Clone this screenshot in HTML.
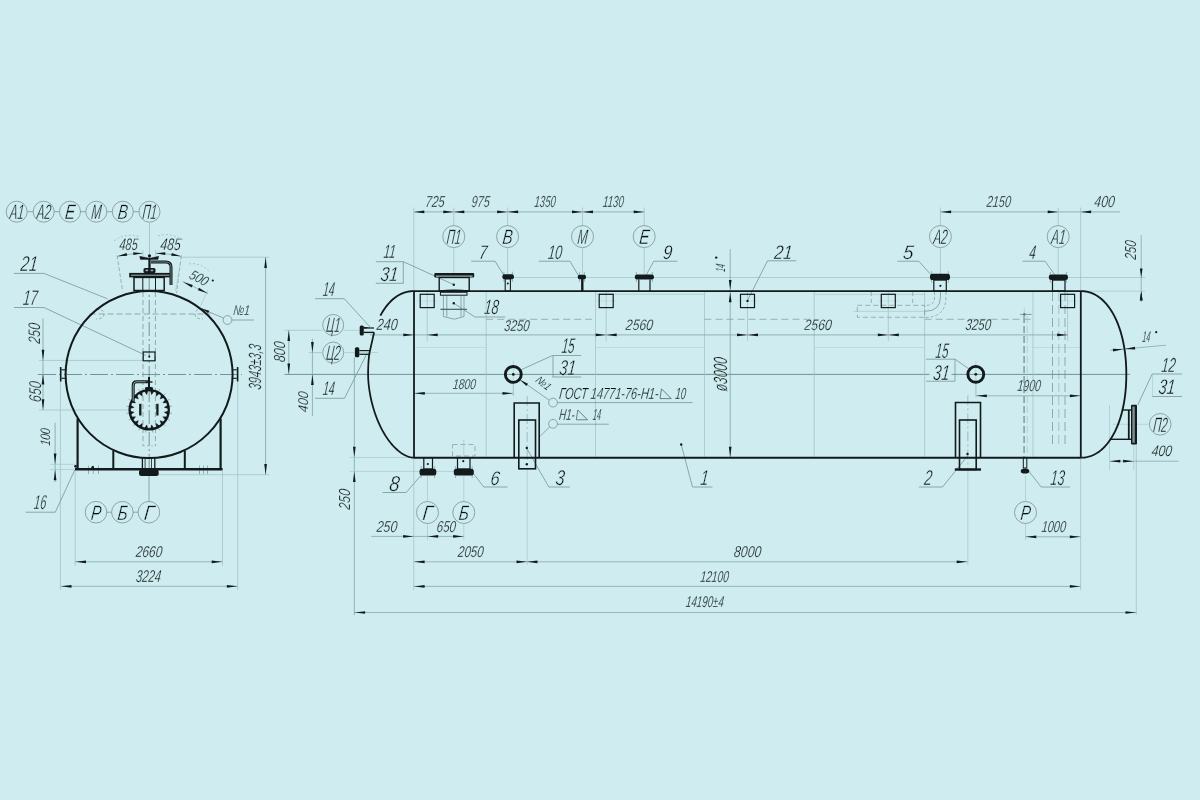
<!DOCTYPE html><html><head><meta charset="utf-8"><title>drawing</title><style>html,body{margin:0;padding:0;background:#cfedf0;}svg{display:block;font-family:"Liberation Sans",sans-serif;}svg{will-change:transform;}</style></head><body>
<svg width="1200" height="800" viewBox="0 0 1200 800">
<rect x="0" y="0" width="1200" height="800" fill="#cfedf0"/>
<circle cx="16.7" cy="211.7" r="10.5" fill="none" stroke="#6f8486" stroke-width="0.7"/>
<line x1="27.2" y1="211.7" x2="33.2" y2="211.7" stroke="#678a8d" stroke-width="0.7"/>
<circle cx="43.7" cy="211.7" r="10.5" fill="none" stroke="#6f8486" stroke-width="0.7"/>
<line x1="54.2" y1="211.7" x2="59.5" y2="211.7" stroke="#678a8d" stroke-width="0.7"/>
<circle cx="70" cy="211.7" r="10.5" fill="none" stroke="#6f8486" stroke-width="0.7"/>
<line x1="80.5" y1="211.7" x2="85.8" y2="211.7" stroke="#678a8d" stroke-width="0.7"/>
<circle cx="96.3" cy="211.7" r="10.5" fill="none" stroke="#6f8486" stroke-width="0.7"/>
<line x1="106.8" y1="211.7" x2="112.3" y2="211.7" stroke="#678a8d" stroke-width="0.7"/>
<circle cx="122.8" cy="211.7" r="10.5" fill="none" stroke="#6f8486" stroke-width="0.7"/>
<line x1="133.3" y1="211.7" x2="139" y2="211.7" stroke="#678a8d" stroke-width="0.7"/>
<circle cx="149.5" cy="211.7" r="10.5" fill="none" stroke="#6f8486" stroke-width="0.7"/>
<line x1="149.5" y1="222.2" x2="149.5" y2="256" stroke="#9dbfc2" stroke-width="0.8"/>
<line x1="149.2" y1="256" x2="149.2" y2="468" stroke="#5c7c7f" stroke-width="0.8" stroke-dasharray="14,3,2,3"/>
<line x1="38" y1="374.5" x2="242" y2="374.5" stroke="#5c7c7f" stroke-width="0.8" stroke-dasharray="18,3,2,3"/>
<line x1="143" y1="292" x2="143" y2="446" stroke="#7f9799" stroke-width="0.8" stroke-dasharray="5,3"/>
<line x1="155.4" y1="292" x2="155.4" y2="446" stroke="#7f9799" stroke-width="0.8" stroke-dasharray="5,3"/>
<line x1="89.5" y1="314" x2="210.5" y2="314" stroke="#7f9799" stroke-width="0.8" stroke-dasharray="6,3"/>
<path d="M 96 309 Q 104 309 104 314 Q 104 319 96 319" fill="none" stroke="#7f9799" stroke-width="0.8" stroke-dasharray="3,2"/>
<path d="M 203 309 Q 195 309 195 314 Q 195 319 203 319" fill="none" stroke="#7f9799" stroke-width="0.8" stroke-dasharray="3,2"/>
<line x1="180.6" y1="257.2" x2="269.4" y2="257.2" stroke="#9dbfc2" stroke-width="0.7"/>
<line x1="158" y1="474.7" x2="269.4" y2="474.7" stroke="#9dbfc2" stroke-width="0.7"/>
<line x1="265.6" y1="257.2" x2="265.6" y2="474.7" stroke="#7c9fa2" stroke-width="0.8"/>
<line x1="117" y1="255.4" x2="122.7" y2="291.2" stroke="#7f9799" stroke-width="0.7" stroke-dasharray="4,2"/>
<line x1="181.3" y1="255.4" x2="176.5" y2="293" stroke="#7f9799" stroke-width="0.7" stroke-dasharray="4,2"/>
<path d="M 117.5 256.3 Q 130 253.5 143 253.2" fill="none" stroke="#7c9fa2" stroke-width="0.7"/>
<path d="M 155.6 253.2 Q 168 253.5 181 256.3" fill="none" stroke="#7c9fa2" stroke-width="0.7"/>
<line x1="143" y1="250" x2="143" y2="256" stroke="#9dbfc2" stroke-width="0.6"/>
<line x1="155.6" y1="250" x2="155.6" y2="256" stroke="#9dbfc2" stroke-width="0.6"/>
<path d="M 114 241 Q 126 232 140 237" fill="none" stroke="#7f9799" stroke-width="0.5" stroke-dasharray="2,2"/>
<path d="M 158 236 Q 170 232 183 240" fill="none" stroke="#7f9799" stroke-width="0.5" stroke-dasharray="2,2"/>
<line x1="175.5" y1="291" x2="180.6" y2="262" stroke="#9dbfc2" stroke-width="0.5"/>
<line x1="200.5" y1="306" x2="208" y2="290" stroke="#9dbfc2" stroke-width="0.6"/>
<line x1="182.5" y1="281.5" x2="208" y2="293.5" stroke="#7c9fa2" stroke-width="0.7"/>
<path d="M 189 264 Q 200 262 210 272" fill="none" stroke="#7f9799" stroke-width="0.5" stroke-dasharray="2,2"/>
<circle cx="227.5" cy="320" r="4.4" fill="none" stroke="#6f8486" stroke-width="0.7"/>
<line x1="223.5" y1="318" x2="201" y2="308.5" stroke="#678a8d" stroke-width="0.7"/>
<line x1="232" y1="320" x2="254" y2="320" stroke="#678a8d" stroke-width="0.7"/>
<line x1="14" y1="273.4" x2="44" y2="273.4" stroke="#678a8d" stroke-width="0.7"/>
<line x1="44" y1="273.4" x2="107.5" y2="298.8" stroke="#678a8d" stroke-width="0.7"/>
<line x1="14" y1="307.5" x2="44" y2="307.5" stroke="#678a8d" stroke-width="0.7"/>
<line x1="44" y1="307.5" x2="146" y2="355.5" stroke="#678a8d" stroke-width="0.7"/>
<line x1="39" y1="360.4" x2="143" y2="360.4" stroke="#9dbfc2" stroke-width="0.7"/>
<line x1="39" y1="410" x2="130" y2="410" stroke="#9dbfc2" stroke-width="0.7"/>
<line x1="43" y1="318.5" x2="43" y2="410" stroke="#7c9fa2" stroke-width="0.8"/>
<line x1="55.1" y1="422.8" x2="55.1" y2="482" stroke="#7c9fa2" stroke-width="0.8"/>
<line x1="50" y1="464.3" x2="78" y2="464.3" stroke="#9dbfc2" stroke-width="0.6"/>
<line x1="50" y1="469.6" x2="76" y2="469.6" stroke="#9dbfc2" stroke-width="0.6"/>
<line x1="60.4" y1="381.3" x2="60.4" y2="590" stroke="#9dbfc2" stroke-width="0.7"/>
<line x1="237.7" y1="381.6" x2="237.7" y2="590" stroke="#9dbfc2" stroke-width="0.7"/>
<line x1="88.5" y1="465.5" x2="88.5" y2="474" stroke="#678a8d" stroke-width="0.6"/>
<line x1="93.3" y1="465.5" x2="93.3" y2="474" stroke="#678a8d" stroke-width="0.6"/>
<line x1="98.5" y1="465.5" x2="98.5" y2="474" stroke="#678a8d" stroke-width="0.6"/>
<line x1="199.5" y1="465.5" x2="199.5" y2="474" stroke="#678a8d" stroke-width="0.6"/>
<line x1="203.5" y1="465.5" x2="203.5" y2="474" stroke="#678a8d" stroke-width="0.6"/>
<line x1="207.5" y1="465.5" x2="207.5" y2="474" stroke="#678a8d" stroke-width="0.6"/>
<line x1="169.35" y1="412.99" x2="172.02" y2="413.41" stroke="#678a8d" stroke-width="0.6"/>
<line x1="167.38" y1="419.06" x2="169.78" y2="420.29" stroke="#678a8d" stroke-width="0.6"/>
<line x1="163.62" y1="424.22" x2="165.53" y2="426.13" stroke="#678a8d" stroke-width="0.6"/>
<line x1="158.46" y1="427.98" x2="159.69" y2="430.38" stroke="#678a8d" stroke-width="0.6"/>
<line x1="152.39" y1="429.95" x2="152.81" y2="432.62" stroke="#678a8d" stroke-width="0.6"/>
<line x1="146.01" y1="429.95" x2="145.59" y2="432.62" stroke="#678a8d" stroke-width="0.6"/>
<line x1="139.94" y1="427.98" x2="138.71" y2="430.38" stroke="#678a8d" stroke-width="0.6"/>
<line x1="134.78" y1="424.22" x2="132.87" y2="426.13" stroke="#678a8d" stroke-width="0.6"/>
<line x1="131.02" y1="419.06" x2="128.62" y2="420.29" stroke="#678a8d" stroke-width="0.6"/>
<line x1="129.05" y1="412.99" x2="126.38" y2="413.41" stroke="#678a8d" stroke-width="0.6"/>
<line x1="129.05" y1="406.61" x2="126.38" y2="406.19" stroke="#678a8d" stroke-width="0.6"/>
<line x1="131.02" y1="400.54" x2="128.62" y2="399.31" stroke="#678a8d" stroke-width="0.6"/>
<line x1="134.78" y1="395.38" x2="132.87" y2="393.47" stroke="#678a8d" stroke-width="0.6"/>
<line x1="139.94" y1="391.62" x2="138.71" y2="389.22" stroke="#678a8d" stroke-width="0.6"/>
<line x1="146.01" y1="389.65" x2="145.59" y2="386.98" stroke="#678a8d" stroke-width="0.6"/>
<line x1="152.39" y1="389.65" x2="152.81" y2="386.98" stroke="#678a8d" stroke-width="0.6"/>
<line x1="158.46" y1="391.62" x2="159.69" y2="389.22" stroke="#678a8d" stroke-width="0.6"/>
<line x1="163.62" y1="395.38" x2="165.53" y2="393.47" stroke="#678a8d" stroke-width="0.6"/>
<line x1="167.38" y1="400.54" x2="169.78" y2="399.31" stroke="#678a8d" stroke-width="0.6"/>
<line x1="169.35" y1="406.61" x2="172.02" y2="406.19" stroke="#678a8d" stroke-width="0.6"/>
<line x1="143" y1="430" x2="155.4" y2="430" stroke="#7f9799" stroke-width="0.5" stroke-dasharray="2,2"/>
<line x1="143" y1="445.9" x2="155.4" y2="445.9" stroke="#7f9799" stroke-width="0.5" stroke-dasharray="2,2"/>
<line x1="25.6" y1="512.2" x2="55.3" y2="512.2" stroke="#678a8d" stroke-width="0.7"/>
<line x1="55.3" y1="512.2" x2="74.75" y2="470" stroke="#678a8d" stroke-width="0.7"/>
<circle cx="96" cy="512.2" r="10.8" fill="none" stroke="#6f8486" stroke-width="0.7"/>
<line x1="106.8" y1="512.2" x2="111.6" y2="512.2" stroke="#678a8d" stroke-width="0.7"/>
<circle cx="122.4" cy="512.2" r="10.8" fill="none" stroke="#6f8486" stroke-width="0.7"/>
<line x1="133.2" y1="512.2" x2="138.1" y2="512.2" stroke="#678a8d" stroke-width="0.7"/>
<circle cx="148.9" cy="512.2" r="10.8" fill="none" stroke="#6f8486" stroke-width="0.7"/>
<line x1="149" y1="475" x2="149" y2="501.4" stroke="#678a8d" stroke-width="0.7"/>
<line x1="75.2" y1="471" x2="75.2" y2="565.7" stroke="#9dbfc2" stroke-width="0.7"/>
<line x1="222.5" y1="471" x2="222.5" y2="565.7" stroke="#9dbfc2" stroke-width="0.7"/>
<line x1="75.2" y1="561.8" x2="222.5" y2="561.8" stroke="#7c9fa2" stroke-width="0.7"/>
<line x1="60.7" y1="586.3" x2="237.7" y2="586.3" stroke="#7c9fa2" stroke-width="0.7"/>
<line x1="284.5" y1="374.4" x2="929.5" y2="374.4" stroke="#5c7c7f" stroke-width="0.8"/>
<line x1="951.5" y1="374.4" x2="1130" y2="374.4" stroke="#5c7c7f" stroke-width="0.8"/>
<line x1="486.2" y1="292.3" x2="486.2" y2="456.7" stroke="#9dbfc2" stroke-width="0.7"/>
<line x1="595.5" y1="292" x2="595.5" y2="456.7" stroke="#9dbfc2" stroke-width="0.7"/>
<line x1="704.5" y1="292" x2="704.5" y2="456.7" stroke="#9dbfc2" stroke-width="0.7"/>
<line x1="814.2" y1="292" x2="814.2" y2="456.7" stroke="#9dbfc2" stroke-width="0.7"/>
<line x1="924.6" y1="292" x2="924.6" y2="456.7" stroke="#9dbfc2" stroke-width="0.7"/>
<line x1="1033" y1="292" x2="1033" y2="456.7" stroke="#9dbfc2" stroke-width="0.7"/>
<line x1="414" y1="347.5" x2="486.2" y2="347.5" stroke="#9dbfc2" stroke-width="0.6" stroke-opacity="0.6"/>
<line x1="595.5" y1="347.5" x2="704.5" y2="347.5" stroke="#9dbfc2" stroke-width="0.6" stroke-opacity="0.6"/>
<line x1="814.2" y1="347.5" x2="924.6" y2="347.5" stroke="#9dbfc2" stroke-width="0.6" stroke-opacity="0.6"/>
<line x1="1033" y1="347.5" x2="1080.8" y2="347.5" stroke="#9dbfc2" stroke-width="0.6" stroke-opacity="0.6"/>
<line x1="486.2" y1="319.3" x2="595.5" y2="319.3" stroke="#7f9799" stroke-width="0.7" stroke-dasharray="7,4"/>
<line x1="704.5" y1="319.3" x2="812" y2="319.3" stroke="#7f9799" stroke-width="0.7" stroke-dasharray="7,4"/>
<line x1="924.6" y1="319.3" x2="1032.5" y2="319.3" stroke="#7f9799" stroke-width="0.7" stroke-dasharray="7,4"/>
<line x1="427.2" y1="291.5" x2="427.2" y2="341" stroke="#9dbfc2" stroke-width="0.7"/>
<line x1="417.2" y1="300.9" x2="437.2" y2="300.9" stroke="#9dbfc2" stroke-width="0.5" stroke-opacity="0.6"/>
<line x1="606.2" y1="291.5" x2="606.2" y2="341" stroke="#9dbfc2" stroke-width="0.7"/>
<line x1="596.2" y1="300.9" x2="616.2" y2="300.9" stroke="#9dbfc2" stroke-width="0.5" stroke-opacity="0.6"/>
<line x1="747.5" y1="291.5" x2="747.5" y2="341" stroke="#9dbfc2" stroke-width="0.7"/>
<line x1="737.5" y1="300.9" x2="757.5" y2="300.9" stroke="#9dbfc2" stroke-width="0.5" stroke-opacity="0.6"/>
<line x1="888.3" y1="291.5" x2="888.3" y2="341" stroke="#9dbfc2" stroke-width="0.7"/>
<line x1="878.3" y1="300.9" x2="898.3" y2="300.9" stroke="#9dbfc2" stroke-width="0.5" stroke-opacity="0.6"/>
<line x1="1067.6" y1="291.5" x2="1067.6" y2="341" stroke="#9dbfc2" stroke-width="0.7"/>
<line x1="1057.6" y1="300.9" x2="1077.6" y2="300.9" stroke="#9dbfc2" stroke-width="0.5" stroke-opacity="0.6"/>
<line x1="370" y1="334.9" x2="1068" y2="334.9" stroke="#7c9fa2" stroke-width="0.75"/>
<line x1="443.4" y1="295.5" x2="443.4" y2="316.5" stroke="#678a8d" stroke-width="0.7"/>
<line x1="446.8" y1="295.5" x2="446.8" y2="316.5" stroke="#678a8d" stroke-width="0.7"/>
<line x1="461" y1="295.5" x2="461" y2="316.5" stroke="#678a8d" stroke-width="0.7"/>
<line x1="464" y1="295.5" x2="464" y2="316.5" stroke="#678a8d" stroke-width="0.7"/>
<line x1="440.4" y1="309.3" x2="467" y2="309.3" stroke="#3d5254" stroke-width="1.1"/>
<path d="M 443.4 316.5 L 454.2 319.2 L 464 316.5" fill="none" stroke="#678a8d" stroke-width="0.7"/>
<line x1="503.9" y1="271.7" x2="503.9" y2="281.9" stroke="#678a8d" stroke-width="0.6"/>
<line x1="512.4" y1="271.7" x2="512.4" y2="281.9" stroke="#678a8d" stroke-width="0.6"/>
<line x1="579.4" y1="272.2" x2="579.4" y2="281.8" stroke="#678a8d" stroke-width="0.6"/>
<line x1="584.4" y1="272.2" x2="584.4" y2="281.8" stroke="#678a8d" stroke-width="0.6"/>
<line x1="636.4" y1="272" x2="636.4" y2="282.2" stroke="#678a8d" stroke-width="0.6"/>
<line x1="652.4" y1="272" x2="652.4" y2="282.2" stroke="#678a8d" stroke-width="0.6"/>
<line x1="931.6" y1="271.2" x2="931.6" y2="282.7" stroke="#678a8d" stroke-width="0.6"/>
<line x1="948.4" y1="271.2" x2="948.4" y2="282.7" stroke="#678a8d" stroke-width="0.6"/>
<path d="M 934.5 292 L 934.5 298 Q 934.5 305.5 925 305.5" fill="none" stroke="#7f9799" stroke-width="0.7" stroke-dasharray="3,2"/>
<path d="M 946 292 L 946 296.5 Q 946 317.5 925 317.5" fill="none" stroke="#7f9799" stroke-width="0.7" stroke-dasharray="3,2"/>
<path d="M 940.5 291 L 940.5 296.5 Q 940.5 311.3 925 311.3" fill="none" stroke="#678a8d" stroke-width="0.7"/>
<rect x="857.3" y="305.3" width="67.3" height="12" fill="none" stroke="#7f9799" stroke-width="0.7" stroke-dasharray="5,3"/>
<line x1="853.3" y1="311.3" x2="924.6" y2="311.3" stroke="#9dbfc2" stroke-width="0.6"/>
<line x1="871.3" y1="292" x2="871.3" y2="305.3" stroke="#7f9799" stroke-width="0.7" stroke-dasharray="4,3"/>
<line x1="912.7" y1="292" x2="912.7" y2="305.3" stroke="#7f9799" stroke-width="0.7" stroke-dasharray="4,3"/>
<line x1="814.7" y1="294.4" x2="924.7" y2="294.4" stroke="#9dbfc2" stroke-width="0.6"/>
<line x1="595.5" y1="294.2" x2="704.5" y2="294.2" stroke="#9dbfc2" stroke-width="0.6"/>
<line x1="1050.4" y1="272" x2="1050.4" y2="282.7" stroke="#678a8d" stroke-width="0.6"/>
<line x1="1066.4" y1="272" x2="1066.4" y2="282.7" stroke="#678a8d" stroke-width="0.6"/>
<line x1="1052.5" y1="292" x2="1052.5" y2="445" stroke="#7f9799" stroke-width="0.8" stroke-dasharray="9,4"/>
<line x1="1065" y1="292" x2="1065" y2="445" stroke="#7f9799" stroke-width="0.8" stroke-dasharray="9,4"/>
<line x1="1058.8" y1="292" x2="1058.8" y2="445" stroke="#7f9799" stroke-width="0.5" stroke-dasharray="9,4"/>
<line x1="510" y1="277.5" x2="1145" y2="277.5" stroke="#9dbfc2" stroke-width="0.7"/>
<line x1="413.8" y1="211.9" x2="644.2" y2="211.9" stroke="#7c9fa2" stroke-width="0.75"/>
<line x1="413.8" y1="207.5" x2="413.8" y2="291.1" stroke="#9dbfc2" stroke-width="0.7"/>
<line x1="453.8" y1="207.5" x2="453.8" y2="226" stroke="#9dbfc2" stroke-width="0.7"/>
<line x1="507.6" y1="207.5" x2="507.6" y2="226" stroke="#9dbfc2" stroke-width="0.7"/>
<line x1="582.5" y1="207.5" x2="582.5" y2="226" stroke="#9dbfc2" stroke-width="0.7"/>
<line x1="644.2" y1="207.5" x2="644.2" y2="226" stroke="#9dbfc2" stroke-width="0.7"/>
<line x1="940.4" y1="211.9" x2="1120" y2="211.9" stroke="#7c9fa2" stroke-width="0.75"/>
<line x1="940.4" y1="207.5" x2="940.4" y2="225.5" stroke="#9dbfc2" stroke-width="0.7"/>
<line x1="1058.2" y1="207.5" x2="1058.2" y2="225.5" stroke="#9dbfc2" stroke-width="0.7"/>
<line x1="1080.6" y1="207.5" x2="1080.6" y2="291.1" stroke="#9dbfc2" stroke-width="0.7"/>
<circle cx="453.8" cy="236.6" r="11" fill="none" stroke="#6f8486" stroke-width="0.7"/>
<line x1="453.8" y1="247.6" x2="453.8" y2="274" stroke="#9dbfc2" stroke-width="0.7"/>
<circle cx="507.6" cy="236.6" r="11" fill="none" stroke="#6f8486" stroke-width="0.7"/>
<line x1="507.6" y1="247.6" x2="507.6" y2="274" stroke="#9dbfc2" stroke-width="0.7"/>
<circle cx="582.5" cy="236.6" r="11" fill="none" stroke="#6f8486" stroke-width="0.7"/>
<line x1="582.5" y1="247.6" x2="582.5" y2="274" stroke="#9dbfc2" stroke-width="0.7"/>
<circle cx="644.2" cy="236.6" r="11" fill="none" stroke="#6f8486" stroke-width="0.7"/>
<line x1="644.2" y1="247.6" x2="644.2" y2="274" stroke="#9dbfc2" stroke-width="0.7"/>
<circle cx="940.4" cy="236.6" r="11" fill="none" stroke="#6f8486" stroke-width="0.7"/>
<line x1="940.4" y1="247.6" x2="940.4" y2="274" stroke="#9dbfc2" stroke-width="0.7"/>
<circle cx="1058.2" cy="236.6" r="11" fill="none" stroke="#6f8486" stroke-width="0.7"/>
<line x1="1058.2" y1="247.6" x2="1058.2" y2="274" stroke="#9dbfc2" stroke-width="0.7"/>
<line x1="375.8" y1="261.7" x2="403.3" y2="261.7" stroke="#678a8d" stroke-width="0.7"/>
<line x1="375.8" y1="283.3" x2="403.3" y2="283.3" stroke="#678a8d" stroke-width="0.7"/>
<line x1="403.3" y1="261.7" x2="403.3" y2="283.3" stroke="#678a8d" stroke-width="0.7"/>
<line x1="403.3" y1="261.7" x2="453.8" y2="284.7" stroke="#678a8d" stroke-width="0.7"/>
<line x1="471.2" y1="261.2" x2="495" y2="261.2" stroke="#678a8d" stroke-width="0.7"/>
<line x1="495" y1="261.2" x2="503.7" y2="275" stroke="#678a8d" stroke-width="0.7"/>
<line x1="538.8" y1="261.2" x2="570" y2="261.2" stroke="#678a8d" stroke-width="0.7"/>
<line x1="570" y1="261.2" x2="578.8" y2="276.2" stroke="#678a8d" stroke-width="0.7"/>
<line x1="653.8" y1="261.2" x2="677.5" y2="261.2" stroke="#678a8d" stroke-width="0.7"/>
<line x1="653.8" y1="261.2" x2="646.2" y2="275" stroke="#678a8d" stroke-width="0.7"/>
<line x1="767.5" y1="260.8" x2="796.2" y2="260.8" stroke="#678a8d" stroke-width="0.7"/>
<line x1="767.5" y1="260.8" x2="747.5" y2="300.5" stroke="#678a8d" stroke-width="0.7"/>
<line x1="897.5" y1="261.2" x2="918.8" y2="261.2" stroke="#678a8d" stroke-width="0.7"/>
<line x1="918.8" y1="261.2" x2="931.2" y2="275" stroke="#678a8d" stroke-width="0.7"/>
<line x1="1022.5" y1="261.2" x2="1045" y2="261.2" stroke="#678a8d" stroke-width="0.7"/>
<line x1="1045" y1="261.2" x2="1055" y2="275" stroke="#678a8d" stroke-width="0.7"/>
<line x1="475" y1="317" x2="505.2" y2="317" stroke="#678a8d" stroke-width="0.7"/>
<line x1="475" y1="317" x2="453.8" y2="303.3" stroke="#678a8d" stroke-width="0.7"/>
<line x1="730.2" y1="249" x2="730.2" y2="457.7" stroke="#7c9fa2" stroke-width="0.75"/>
<line x1="1141.2" y1="235" x2="1141.2" y2="302" stroke="#7c9fa2" stroke-width="0.7"/>
<line x1="1081" y1="291.2" x2="1145" y2="291.2" stroke="#9dbfc2" stroke-width="0.6"/>
<circle cx="333.2" cy="325" r="10.5" fill="none" stroke="#6f8486" stroke-width="0.7"/>
<circle cx="333.2" cy="352.6" r="10.5" fill="none" stroke="#6f8486" stroke-width="0.7"/>
<line x1="284.5" y1="330.3" x2="322.7" y2="330.3" stroke="#9dbfc2" stroke-width="0.7"/>
<line x1="343.7" y1="330.3" x2="360" y2="330.3" stroke="#9dbfc2" stroke-width="0.6"/>
<line x1="308.7" y1="352.6" x2="322.7" y2="352.6" stroke="#9dbfc2" stroke-width="0.7"/>
<line x1="343.7" y1="352.6" x2="378" y2="352.6" stroke="#9dbfc2" stroke-width="0.6"/>
<line x1="315" y1="298.7" x2="344.3" y2="298.7" stroke="#678a8d" stroke-width="0.7"/>
<line x1="344.3" y1="298.7" x2="370" y2="327" stroke="#678a8d" stroke-width="0.7"/>
<line x1="315" y1="398.3" x2="344.5" y2="398.3" stroke="#678a8d" stroke-width="0.7"/>
<line x1="344.5" y1="398.3" x2="367" y2="353.5" stroke="#678a8d" stroke-width="0.7"/>
<line x1="288.8" y1="330.3" x2="288.8" y2="374.4" stroke="#7c9fa2" stroke-width="0.75"/>
<line x1="312.4" y1="338.8" x2="312.4" y2="416.2" stroke="#7c9fa2" stroke-width="0.75"/>
<line x1="354.3" y1="357.3" x2="354.3" y2="615" stroke="#7c9fa2" stroke-width="0.75"/>
<line x1="350" y1="457.5" x2="408" y2="457.5" stroke="#9dbfc2" stroke-width="0.6"/>
<line x1="350" y1="471.4" x2="455" y2="471.4" stroke="#9dbfc2" stroke-width="0.6"/>
<line x1="513.3" y1="361" x2="513.3" y2="396" stroke="#9dbfc2" stroke-width="0.6"/>
<line x1="975.8" y1="361" x2="975.8" y2="396" stroke="#9dbfc2" stroke-width="0.6"/>
<line x1="552.5" y1="355.5" x2="581.2" y2="355.5" stroke="#678a8d" stroke-width="0.7"/>
<line x1="552.5" y1="377" x2="581.2" y2="377" stroke="#678a8d" stroke-width="0.7"/>
<line x1="553" y1="355.5" x2="553" y2="377" stroke="#678a8d" stroke-width="0.7"/>
<line x1="552.5" y1="355.5" x2="520.5" y2="370" stroke="#678a8d" stroke-width="0.7"/>
<line x1="926.2" y1="359.2" x2="955" y2="359.2" stroke="#678a8d" stroke-width="0.7"/>
<line x1="926.2" y1="381.2" x2="955" y2="381.2" stroke="#678a8d" stroke-width="0.7"/>
<line x1="955" y1="359.2" x2="955" y2="381.2" stroke="#678a8d" stroke-width="0.7"/>
<line x1="955" y1="359.2" x2="970.5" y2="370" stroke="#678a8d" stroke-width="0.7"/>
<line x1="519.5" y1="379.5" x2="549" y2="400" stroke="#678a8d" stroke-width="0.7"/>
<circle cx="553" cy="402.6" r="4.4" fill="none" stroke="#6f8486" stroke-width="0.7"/>
<line x1="557.4" y1="402.6" x2="692.5" y2="402.6" stroke="#678a8d" stroke-width="0.7"/>
<polygon points="661.5,388.8 660,398.6 671.2,398.6" fill="none" stroke="#4d6668" stroke-width="0.8"/>
<circle cx="553" cy="423.8" r="4.4" fill="none" stroke="#6f8486" stroke-width="0.7"/>
<line x1="557.4" y1="424.2" x2="608.8" y2="424.2" stroke="#678a8d" stroke-width="0.7"/>
<line x1="550" y1="426.5" x2="540.2" y2="436.2" stroke="#678a8d" stroke-width="0.7"/>
<polygon points="577.8,410 576.3,419.8 587.5,419.8" fill="none" stroke="#4d6668" stroke-width="0.8"/>
<line x1="414" y1="393.3" x2="513.3" y2="393.3" stroke="#7c9fa2" stroke-width="0.7"/>
<line x1="513.3" y1="383" x2="513.3" y2="396" stroke="#9dbfc2" stroke-width="0.6"/>
<line x1="976" y1="395.8" x2="1080.6" y2="395.8" stroke="#7c9fa2" stroke-width="0.7"/>
<line x1="976" y1="383" x2="976" y2="398" stroke="#9dbfc2" stroke-width="0.6"/>
<line x1="527.15" y1="396" x2="527.15" y2="468.8" stroke="#7f9799" stroke-width="0.6" stroke-dasharray="10,3,2,3"/>
<line x1="527.15" y1="468.8" x2="527.15" y2="565" stroke="#9dbfc2" stroke-width="0.6"/>
<line x1="967.85" y1="395.5" x2="967.85" y2="469.5" stroke="#7f9799" stroke-width="0.6" stroke-dasharray="10,3,2,3"/>
<line x1="967.85" y1="469.5" x2="967.85" y2="565" stroke="#9dbfc2" stroke-width="0.6"/>
<line x1="548.8" y1="487" x2="570" y2="487" stroke="#678a8d" stroke-width="0.7"/>
<line x1="548.8" y1="487" x2="527" y2="448.8" stroke="#678a8d" stroke-width="0.7"/>
<line x1="918.8" y1="487" x2="942.5" y2="487" stroke="#678a8d" stroke-width="0.7"/>
<line x1="942.5" y1="487" x2="967.5" y2="456" stroke="#678a8d" stroke-width="0.7"/>
<line x1="421.1" y1="466.2" x2="421.1" y2="478.1" stroke="#678a8d" stroke-width="0.6"/>
<line x1="434.7" y1="466.2" x2="434.7" y2="478.1" stroke="#678a8d" stroke-width="0.6"/>
<line x1="455.4" y1="466.2" x2="455.4" y2="478.1" stroke="#678a8d" stroke-width="0.6"/>
<line x1="472.2" y1="466.2" x2="472.2" y2="478.1" stroke="#678a8d" stroke-width="0.6"/>
<rect x="452.5" y="444.5" width="22.5" height="11.5" fill="none" stroke="#7f9799" stroke-width="0.7" stroke-dasharray="5,3"/>
<line x1="463.8" y1="440" x2="463.8" y2="456" stroke="#9dbfc2" stroke-width="0.6"/>
<line x1="382.5" y1="492.5" x2="406.2" y2="492.5" stroke="#678a8d" stroke-width="0.7"/>
<line x1="406.2" y1="492.5" x2="421.2" y2="475" stroke="#678a8d" stroke-width="0.7"/>
<line x1="483.8" y1="487" x2="507.5" y2="487" stroke="#678a8d" stroke-width="0.7"/>
<line x1="483.8" y1="487" x2="472.5" y2="472.5" stroke="#678a8d" stroke-width="0.7"/>
<line x1="1024.1" y1="316" x2="1024.1" y2="457.7" stroke="#8aa5a8" stroke-width="1.7" stroke-dasharray="7,3"/>
<line x1="1027.2" y1="316" x2="1027.2" y2="457.7" stroke="#9dbcbf" stroke-width="0.6" stroke-dasharray="7,3"/>
<line x1="1020" y1="314.4" x2="1031.6" y2="314.4" stroke="#678a8d" stroke-width="0.8"/>
<line x1="1024.3" y1="307.7" x2="1024.3" y2="318" stroke="#9dbfc2" stroke-width="0.6"/>
<circle cx="1024.3" cy="314.4" r="1.3" fill="#5f7b7e"/>
<line x1="1041.2" y1="487" x2="1070" y2="487" stroke="#678a8d" stroke-width="0.7"/>
<line x1="1041.2" y1="487" x2="1028.8" y2="471.2" stroke="#678a8d" stroke-width="0.7"/>
<line x1="692.5" y1="487" x2="712.5" y2="487" stroke="#678a8d" stroke-width="0.7"/>
<line x1="692.5" y1="487" x2="681.2" y2="444.5" stroke="#678a8d" stroke-width="0.7"/>
<line x1="1113" y1="424.3" x2="1149" y2="424.3" stroke="#9dbfc2" stroke-width="0.5"/>
<line x1="1109.5" y1="405" x2="1109.5" y2="470" stroke="#9dbfc2" stroke-width="0.6"/>
<line x1="1133.8" y1="444" x2="1133.8" y2="470" stroke="#9dbfc2" stroke-width="0.6"/>
<line x1="1136.3" y1="444" x2="1136.3" y2="615" stroke="#9dbfc2" stroke-width="0.7"/>
<line x1="1110" y1="461.2" x2="1178.8" y2="461.2" stroke="#7c9fa2" stroke-width="0.7"/>
<line x1="1152.2" y1="374" x2="1182" y2="374" stroke="#678a8d" stroke-width="0.7"/>
<line x1="1152.2" y1="396.5" x2="1182" y2="396.5" stroke="#678a8d" stroke-width="0.7"/>
<line x1="1152.6" y1="374" x2="1152.6" y2="396.5" stroke="#9dbfc2" stroke-width="0.5"/>
<line x1="1152.2" y1="374" x2="1137.8" y2="404.8" stroke="#678a8d" stroke-width="0.7"/>
<circle cx="1160.2" cy="424.3" r="10.8" fill="none" stroke="#6f8486" stroke-width="0.7"/>
<line x1="1110" y1="350.3" x2="1166" y2="345.2" stroke="#7c9fa2" stroke-width="0.7"/>
<line x1="413.8" y1="457.6" x2="413.8" y2="590" stroke="#9dbfc2" stroke-width="0.7"/>
<line x1="1080.6" y1="457.6" x2="1080.6" y2="590" stroke="#9dbfc2" stroke-width="0.7"/>
<line x1="427.5" y1="476" x2="427.5" y2="501.5" stroke="#9dbfc2" stroke-width="0.6"/>
<line x1="427.5" y1="523.5" x2="427.5" y2="540" stroke="#9dbfc2" stroke-width="0.6"/>
<line x1="463.8" y1="476" x2="463.8" y2="501.5" stroke="#9dbfc2" stroke-width="0.6"/>
<line x1="463.8" y1="523.5" x2="463.8" y2="540" stroke="#9dbfc2" stroke-width="0.6"/>
<circle cx="427.5" cy="512.5" r="11" fill="none" stroke="#6f8486" stroke-width="0.7"/>
<circle cx="463.8" cy="512.5" r="11" fill="none" stroke="#6f8486" stroke-width="0.7"/>
<circle cx="1025.5" cy="512.5" r="11" fill="none" stroke="#6f8486" stroke-width="0.7"/>
<line x1="1025.5" y1="476" x2="1025.5" y2="501.5" stroke="#9dbfc2" stroke-width="0.6"/>
<line x1="1025.5" y1="523.5" x2="1025.5" y2="540" stroke="#9dbfc2" stroke-width="0.6"/>
<line x1="371.2" y1="536.4" x2="463.8" y2="536.4" stroke="#7c9fa2" stroke-width="0.7"/>
<line x1="1025.5" y1="536.8" x2="1080.6" y2="536.8" stroke="#7c9fa2" stroke-width="0.7"/>
<line x1="413.8" y1="561.8" x2="967.5" y2="561.8" stroke="#7c9fa2" stroke-width="0.7"/>
<line x1="413.8" y1="586.4" x2="1080.6" y2="586.4" stroke="#7c9fa2" stroke-width="0.7"/>
<line x1="354.3" y1="612.5" x2="1136.3" y2="612.5" stroke="#7c9fa2" stroke-width="0.7"/>
<circle cx="149.1" cy="374.6" r="83.5" fill="none" stroke="#121a1c" stroke-width="2.0"/>
<rect x="143.2" y="352" width="11.8" height="8.8" fill="none" stroke="#121a1c" stroke-width="1.2"/>
<circle cx="149.3" cy="356.4" r="1.0" fill="#121a1c"/>
<rect x="129.2" y="272.9" width="42.9" height="4.5" rx="0" fill="#121a1c"/>
<rect class="o" x="131" y="274.6" width="39" height="1.3" fill="#7d8f91"/>
<rect x="134" y="277.4" width="30.2" height="13.1" fill="none" stroke="#121a1c" stroke-width="1.5"/>
<line x1="142.8" y1="277.4" x2="142.8" y2="290.5" stroke="#121a1c" stroke-width="1.0"/>
<line x1="155.5" y1="277.4" x2="155.5" y2="290.5" stroke="#121a1c" stroke-width="1.0"/>
<rect x="143.5" y="268" width="12" height="5" rx="1.5" fill="#121a1c"/>
<line x1="149.5" y1="258" x2="149.5" y2="269" stroke="#121a1c" stroke-width="2.2"/>
<polygon points="149.5,258.2 139.7,256.3 140.4,259.4 149.5,259.6" fill="#121a1c" stroke="#121a1c" stroke-width="0.4"/>
<polygon points="149.5,258.2 158.7,256.3 158,259.4 149.5,259.6" fill="#121a1c" stroke="#121a1c" stroke-width="0.4"/>
<rect class="o" x="145.5" y="269.6" width="2.6" height="1.6" fill="#9ab0b2"/>
<rect class="o" x="150.6" y="269.6" width="2.6" height="1.6" fill="#9ab0b2"/>
<circle cx="149.5" cy="255.8" r="1.6" fill="#121a1c"/>
<path d="M 151 262 L 166 262 Q 171 262 171 267 L 171 285" fill="none" stroke="#121a1c" stroke-width="3.0"/>
<path class="o" d="M 151 262 L 166 262 Q 171 262 171 267 L 171 285" fill="none" stroke="#6d7e80" stroke-width="1.0"/>
<polygon points="265.6,257.6 266.95,268.1 264.25,268.1" fill="#121a1c"/>
<polygon points="265.6,474.4 264.25,463.9 266.95,463.9" fill="#121a1c"/>
<polygon points="117.6,256.2 126.65,253.01 127.18,255.66" fill="#121a1c"/>
<polygon points="142.8,253.2 133.38,255.02 133.24,252.33" fill="#121a1c"/>
<polygon points="155.8,253.2 165.36,252.33 165.22,255.02" fill="#121a1c"/>
<polygon points="180.8,256.2 171.22,255.66 171.75,253.01" fill="#121a1c"/>
<polygon points="183.2,282 192.81,285.08 191.65,287.52" fill="#121a1c"/>
<polygon points="207.5,293.3 197.89,290.22 199.05,287.78" fill="#121a1c"/>
<circle cx="212.8" cy="280.5" r="1.1" fill="#121a1c"/>
<polygon points="201.5,308.6 209.34,310.68 208.22,313.14" fill="#121a1c"/>
<rect x="59.9" y="367" width="1.6" height="14.6" rx="0.6" fill="#121a1c"/>
<line x1="61.5" y1="369.8" x2="66.2" y2="369.8" stroke="#121a1c" stroke-width="1.1"/>
<line x1="61.5" y1="378.3" x2="66.2" y2="378.3" stroke="#121a1c" stroke-width="1.1"/>
<rect x="236.8" y="367" width="1.6" height="14.6" rx="0.6" fill="#121a1c"/>
<line x1="232.4" y1="369.8" x2="236.8" y2="369.8" stroke="#121a1c" stroke-width="1.1"/>
<line x1="232.4" y1="378.3" x2="236.8" y2="378.3" stroke="#121a1c" stroke-width="1.1"/>
<polygon points="43,360.2 41.65,349.7 44.35,349.7" fill="#121a1c"/>
<polygon points="43,374 44.35,384.5 41.65,384.5" fill="#121a1c"/>
<polygon points="43,409.8 41.65,399.3 44.35,399.3" fill="#121a1c"/>
<polygon points="55.1,464.1 53.75,453.6 56.45,453.6" fill="#121a1c"/>
<polygon points="55.1,469.8 56.45,480.3 53.75,480.3" fill="#121a1c"/>
<line x1="77.6" y1="418.5" x2="77.6" y2="469.5" stroke="#121a1c" stroke-width="2.2"/>
<line x1="220.6" y1="418.5" x2="220.6" y2="469.5" stroke="#121a1c" stroke-width="2.2"/>
<line x1="113.3" y1="450.5" x2="113.3" y2="469.5" stroke="#121a1c" stroke-width="2.0"/>
<line x1="184.8" y1="450.5" x2="184.8" y2="469.5" stroke="#121a1c" stroke-width="2.0"/>
<line x1="75" y1="469.2" x2="222.6" y2="469.2" stroke="#121a1c" stroke-width="2.6"/>
<circle cx="75.6" cy="466.3" r="1.4" fill="#121a1c"/>
<circle cx="92.7" cy="467.2" r="1.3" fill="#121a1c"/>
<line x1="142.4" y1="458.3" x2="142.4" y2="468.2" stroke="#121a1c" stroke-width="1.3"/>
<line x1="154.8" y1="458.3" x2="154.8" y2="468.2" stroke="#121a1c" stroke-width="1.3"/>
<line x1="145.1" y1="458.3" x2="145.1" y2="468.2" stroke="#121a1c" stroke-width="0.8"/>
<line x1="151.5" y1="458.3" x2="151.5" y2="468.2" stroke="#121a1c" stroke-width="0.8"/>
<rect x="139" y="469.5" width="19.7" height="6.5" rx="2.5" fill="#121a1c"/>
<circle cx="149.2" cy="409.8" r="19.6" fill="none" stroke="#121a1c" stroke-width="2.3"/>
<polygon points="164.21,412.18 168.23,414.94 168.89,410.79" fill="#121a1c" stroke="#121a1c" stroke-width="0.3"/>
<polygon points="162.74,416.7 165.71,420.57 167.62,416.83" fill="#121a1c" stroke="#121a1c" stroke-width="0.3"/>
<polygon points="159.95,420.55 161.57,425.14 164.54,422.17" fill="#121a1c" stroke="#121a1c" stroke-width="0.3"/>
<polygon points="156.1,423.34 156.23,428.22 159.97,426.31" fill="#121a1c" stroke="#121a1c" stroke-width="0.3"/>
<polygon points="151.58,424.81 150.19,429.49 154.34,428.83" fill="#121a1c" stroke="#121a1c" stroke-width="0.3"/>
<polygon points="146.82,424.81 144.06,428.83 148.21,429.49" fill="#121a1c" stroke="#121a1c" stroke-width="0.3"/>
<polygon points="142.3,423.34 138.43,426.31 142.17,428.22" fill="#121a1c" stroke="#121a1c" stroke-width="0.3"/>
<polygon points="138.45,420.55 133.86,422.17 136.83,425.14" fill="#121a1c" stroke="#121a1c" stroke-width="0.3"/>
<polygon points="135.66,416.7 130.78,416.83 132.69,420.57" fill="#121a1c" stroke="#121a1c" stroke-width="0.3"/>
<polygon points="134.19,412.18 129.51,410.79 130.17,414.94" fill="#121a1c" stroke="#121a1c" stroke-width="0.3"/>
<polygon points="134.19,407.42 130.17,404.66 129.51,408.81" fill="#121a1c" stroke="#121a1c" stroke-width="0.3"/>
<polygon points="135.66,402.9 132.69,399.03 130.78,402.77" fill="#121a1c" stroke="#121a1c" stroke-width="0.3"/>
<polygon points="138.45,399.05 136.83,394.46 133.86,397.43" fill="#121a1c" stroke="#121a1c" stroke-width="0.3"/>
<polygon points="142.3,396.26 142.17,391.38 138.43,393.29" fill="#121a1c" stroke="#121a1c" stroke-width="0.3"/>
<polygon points="146.82,394.79 148.21,390.11 144.06,390.77" fill="#121a1c" stroke="#121a1c" stroke-width="0.3"/>
<polygon points="151.58,394.79 154.34,390.77 150.19,390.11" fill="#121a1c" stroke="#121a1c" stroke-width="0.3"/>
<polygon points="156.1,396.26 159.97,393.29 156.23,391.38" fill="#121a1c" stroke="#121a1c" stroke-width="0.3"/>
<polygon points="159.95,399.05 164.54,397.43 161.57,394.46" fill="#121a1c" stroke="#121a1c" stroke-width="0.3"/>
<polygon points="162.74,402.9 167.62,402.77 165.71,399.03" fill="#121a1c" stroke="#121a1c" stroke-width="0.3"/>
<polygon points="164.21,407.42 168.89,408.81 168.23,404.66" fill="#121a1c" stroke="#121a1c" stroke-width="0.3"/>
<line x1="140.3" y1="403.8" x2="140.3" y2="415.5" stroke="#121a1c" stroke-width="2.3"/>
<line x1="157.4" y1="403.8" x2="157.4" y2="415.5" stroke="#121a1c" stroke-width="2.3"/>
<path d="M 149 381.8 L 136.7 381.8 Q 133.2 381.8 133.2 385.3 L 133.2 401" fill="none" stroke="#121a1c" stroke-width="3.0"/>
<path class="o" d="M 149 381.8 L 136.7 381.8 Q 133.2 381.8 133.2 385.3 L 133.2 401" fill="none" stroke="#8aa0a2" stroke-width="1.0"/>
<line x1="149" y1="377" x2="149" y2="390.5" stroke="#121a1c" stroke-width="2.0"/>
<line x1="145.5" y1="382" x2="152.5" y2="382" stroke="#121a1c" stroke-width="1.4"/>
<rect x="145" y="387" width="8" height="3.5" rx="1.5" fill="#121a1c"/>
<polygon points="75.5,561.8 86,560.45 86,563.15" fill="#121a1c"/>
<polygon points="222.2,561.8 211.7,563.15 211.7,560.45" fill="#121a1c"/>
<polygon points="61,586.3 71.5,584.95 71.5,587.65" fill="#121a1c"/>
<polygon points="237.4,586.3 226.9,587.65 226.9,584.95" fill="#121a1c"/>
<line x1="414" y1="291.1" x2="1080.8" y2="291.1" stroke="#121a1c" stroke-width="1.85"/>
<line x1="414" y1="457.7" x2="1080.8" y2="457.7" stroke="#121a1c" stroke-width="1.85"/>
<line x1="414" y1="291.1" x2="414" y2="457.7" stroke="#121a1c" stroke-width="1.8"/>
<line x1="1080.8" y1="291.1" x2="1080.8" y2="457.7" stroke="#121a1c" stroke-width="1.8"/>
<path d="M 414 291.1 L 412.91 291.12 L 411.9 291.16 L 410.91 291.24 L 409.93 291.34 L 408.97 291.48 L 408.03 291.65 L 407.09 291.85 L 406.16 292.08 L 405.23 292.34 L 404.32 292.63 L 403.41 292.94 L 402.52 293.29 L 401.63 293.67 L 400.74 294.08 L 399.87 294.52 L 399 294.99 L 398.14 295.48 L 397.29 296.01 L 396.45 296.57 L 395.61 297.15 L 394.79 297.76 L 393.97 298.4 L 393.16 299.07 L 392.36 299.77 L 391.57 300.5 L 390.79 301.25 L 390.02 302.03 L 389.26 302.83 L 388.51 303.67 L 387.78 304.53 L 387.05 305.41 L 386.33 306.33 L 385.62 307.26 L 384.93 308.23 L 384.24 309.21 L 383.57 310.23 L 382.91 311.26 L 382.26 312.32 L 381.63 313.41 L 381 314.52 L 380.39 315.65" fill="none" stroke="#121a1c" stroke-width="1.85"/>
<path d="M 374.1 332.4 L 369.6 352.4 L 369.12 355.19 L 368.94 356.83 L 368.78 358.49 L 368.64 360.17 L 368.51 361.85 L 368.4 363.56 L 368.31 365.28 L 368.23 367.02 L 368.18 368.79 L 368.13 370.58 L 368.11 372.43 L 368.1 374.4 L 368.11 375.46 L 368.14 376.68 L 368.19 377.98 L 368.26 379.33 L 368.35 380.71 L 368.45 382.12 L 368.58 383.55 L 368.73 385 L 368.89 386.47 L 369.08 387.95 L 369.28 389.44 L 369.51 390.94 L 369.75 392.45 L 370.01 393.96 L 370.29 395.48 L 370.59 396.99 L 370.91 398.51 L 371.24 400.03 L 371.59 401.54 L 371.97 403.05 L 372.35 404.56 L 372.76 406.06 L 373.18 407.55 L 373.62 409.04 L 374.08 410.52 L 374.55 411.99 L 375.04 413.45 L 375.55 414.9 L 376.07 416.33 L 376.61 417.75 L 377.16 419.16 L 377.73 420.56 L 378.31 421.93 L 378.91 423.29 L 379.52 424.64 L 380.14 425.97 L 380.78 427.27 L 381.43 428.56 L 382.09 429.83 L 382.77 431.08 L 383.46 432.3 L 384.16 433.51 L 384.87 434.69 L 385.59 435.84 L 386.32 436.98 L 387.06 438.08 L 387.81 439.17 L 388.57 440.22 L 389.34 441.25 L 390.11 442.26 L 390.9 443.23 L 391.69 444.18 L 392.48 445.1 L 393.29 445.99 L 394.1 446.85 L 394.91 447.68 L 395.73 448.47 L 396.56 449.24 L 397.38 449.98 L 398.21 450.69 L 399.05 451.36 L 399.88 452 L 400.72 452.61 L 401.55 453.18 L 402.39 453.72 L 403.22 454.23 L 404.05 454.71 L 404.88 455.15 L 405.71 455.55 L 406.53 455.92 L 407.35 456.26 L 408.16 456.56 L 408.96 456.83 L 409.75 457.06 L 410.52 457.25 L 411.29 457.41 L 412.03 457.54 L 412.74 457.63 L 413.42 457.68 L 414 457.7" fill="none" stroke="#121a1c" stroke-width="1.75"/>
<path d="M 1080.8 291.1 L 1081.88 291.12 L 1082.88 291.16 L 1083.87 291.24 L 1084.83 291.34 L 1085.78 291.48 L 1086.72 291.65 L 1087.65 291.85 L 1088.58 292.08 L 1089.49 292.34 L 1090.4 292.63 L 1091.29 292.94 L 1092.18 293.29 L 1093.07 293.67 L 1093.94 294.08 L 1094.81 294.52 L 1095.67 294.99 L 1096.52 295.48 L 1097.36 296.01 L 1098.2 296.57 L 1099.03 297.15 L 1099.85 297.76 L 1100.66 298.4 L 1101.46 299.07 L 1102.25 299.77 L 1103.03 300.5 L 1103.8 301.25 L 1104.57 302.03 L 1105.32 302.83 L 1106.06 303.67 L 1106.8 304.53 L 1107.52 305.41 L 1108.23 306.33 L 1108.93 307.26 L 1109.62 308.23 L 1110.3 309.21 L 1110.96 310.23 L 1111.62 311.26 L 1112.26 312.32 L 1112.89 313.41 L 1113.51 314.52 L 1114.11 315.65 L 1114.71 316.8 L 1115.29 317.98 L 1115.85 319.18 L 1116.41 320.4 L 1116.95 321.64 L 1117.47 322.9 L 1117.98 324.18 L 1118.48 325.49 L 1118.97 326.81 L 1119.44 328.15 L 1119.89 329.51 L 1120.33 330.89 L 1120.76 332.29 L 1121.17 333.7 L 1121.56 335.13 L 1121.95 336.58 L 1122.31 338.05 L 1122.66 339.53 L 1123 341.03 L 1123.31 342.54 L 1123.62 344.07 L 1123.91 345.62 L 1124.18 347.18 L 1124.43 348.75 L 1124.67 350.34 L 1124.89 351.94 L 1125.1 353.56 L 1125.29 355.19 L 1125.47 356.83 L 1125.62 358.49 L 1125.77 360.17 L 1125.89 361.85 L 1126 363.56 L 1126.09 365.28 L 1126.17 367.02 L 1126.22 368.79 L 1126.27 370.58 L 1126.29 372.43 L 1126.3 374.4 L 1126.29 376.37 L 1126.27 378.22 L 1126.22 380.01 L 1126.17 381.78 L 1126.09 383.52 L 1126 385.24 L 1125.89 386.95 L 1125.77 388.63 L 1125.62 390.31 L 1125.47 391.97 L 1125.29 393.61 L 1125.1 395.24 L 1124.89 396.86 L 1124.67 398.46 L 1124.43 400.05 L 1124.18 401.62 L 1123.91 403.18 L 1123.62 404.73 L 1123.31 406.26 L 1123 407.77 L 1122.66 409.27 L 1122.31 410.75 L 1121.95 412.22 L 1121.56 413.67 L 1121.17 415.1 L 1120.76 416.51 L 1120.33 417.91 L 1119.89 419.29 L 1119.44 420.65 L 1118.97 421.99 L 1118.48 423.31 L 1117.98 424.62 L 1117.47 425.9 L 1116.95 427.16 L 1116.41 428.4 L 1115.85 429.62 L 1115.29 430.82 L 1114.71 432 L 1114.11 433.15 L 1113.51 434.28 L 1112.89 435.39 L 1112.26 436.48 L 1111.62 437.54 L 1110.96 438.57 L 1110.3 439.59 L 1109.62 440.57 L 1108.93 441.54 L 1108.23 442.47 L 1107.52 443.39 L 1106.8 444.27 L 1106.06 445.13 L 1105.32 445.97 L 1104.57 446.77 L 1103.8 447.55 L 1103.03 448.3 L 1102.25 449.03 L 1101.46 449.73 L 1100.66 450.4 L 1099.85 451.04 L 1099.03 451.65 L 1098.2 452.23 L 1097.36 452.79 L 1096.52 453.32 L 1095.67 453.81 L 1094.81 454.28 L 1093.94 454.72 L 1093.07 455.13 L 1092.18 455.51 L 1091.29 455.86 L 1090.4 456.17 L 1089.49 456.46 L 1088.58 456.72 L 1087.65 456.95 L 1086.72 457.15 L 1085.78 457.32 L 1084.83 457.46 L 1083.87 457.56 L 1082.88 457.64 L 1081.88 457.68 L 1080.8 457.7" fill="none" stroke="#121a1c" stroke-width="1.85"/>
<rect x="420.2" y="294.3" width="14" height="13.3" fill="none" stroke="#121a1c" stroke-width="1.2"/>
<rect x="599.2" y="294.3" width="14" height="13.3" fill="none" stroke="#121a1c" stroke-width="1.2"/>
<rect x="740.5" y="294.3" width="14" height="13.3" fill="none" stroke="#121a1c" stroke-width="1.2"/>
<rect x="881.3" y="294.3" width="14" height="13.3" fill="none" stroke="#121a1c" stroke-width="1.2"/>
<rect x="1060.6" y="294.3" width="14" height="13.3" fill="none" stroke="#121a1c" stroke-width="1.2"/>
<circle cx="747.5" cy="300.9" r="1.2" fill="#121a1c"/>
<polygon points="413.8,334.9 403.3,336.25 403.3,333.55" fill="#121a1c"/>
<polygon points="427.2,334.9 437.7,333.55 437.7,336.25" fill="#121a1c"/>
<polygon points="606.2,334.9 595.7,336.25 595.7,333.55" fill="#121a1c"/>
<polygon points="606.2,334.9 616.7,333.55 616.7,336.25" fill="#121a1c"/>
<polygon points="747.5,334.9 737,336.25 737,333.55" fill="#121a1c"/>
<polygon points="747.5,334.9 758,333.55 758,336.25" fill="#121a1c"/>
<polygon points="888.3,334.9 877.8,336.25 877.8,333.55" fill="#121a1c"/>
<polygon points="888.3,334.9 898.8,333.55 898.8,336.25" fill="#121a1c"/>
<polygon points="1067.6,334.9 1057.1,336.25 1057.1,333.55" fill="#121a1c"/>
<rect x="434.3" y="273.1" width="39.9" height="4.4" rx="1" fill="#121a1c"/>
<rect class="o" x="436" y="275.4" width="36.5" height="1.6" fill="#8a9a9c"/>
<rect x="439.2" y="277.5" width="30" height="13.3" fill="none" stroke="#121a1c" stroke-width="1.4"/>
<path d="M 439 291 Q 454 289 469.5 291" fill="none" stroke="#121a1c" stroke-width="1.2"/>
<rect x="440.4" y="292.3" width="26.6" height="2.9" fill="none" stroke="#121a1c" stroke-width="1.0"/>
<circle cx="453.8" cy="284.7" r="1.2" fill="#121a1c"/>
<circle cx="453.8" cy="303.3" r="1.2" fill="#121a1c"/>
<rect x="502.3" y="274.3" width="11.7" height="5" rx="2.2" fill="#121a1c"/>
<rect x="505.2" y="278.8" width="5.2" height="12.2" fill="none" stroke="#121a1c" stroke-width="1.1"/>
<circle cx="507.8" cy="283.5" r="1.0" fill="#121a1c"/>
<rect x="577.8" y="274.8" width="8.2" height="4.4" rx="1.8" fill="#121a1c"/>
<line x1="582.3" y1="278.2" x2="582.3" y2="291" stroke="#121a1c" stroke-width="2.4"/>
<rect x="634.8" y="274.6" width="19.2" height="5" rx="2.4" fill="#121a1c"/>
<line x1="638.8" y1="279.6" x2="638.8" y2="291" stroke="#121a1c" stroke-width="1.2"/>
<line x1="650" y1="279.6" x2="650" y2="291" stroke="#121a1c" stroke-width="1.2"/>
<rect x="930" y="273.8" width="20" height="6.3" rx="2.6" fill="#121a1c"/>
<rect x="933.8" y="280.1" width="12.5" height="10.9" fill="none" stroke="#121a1c" stroke-width="1.2"/>
<circle cx="940.4" cy="285.8" r="1.1" fill="#121a1c"/>
<rect x="1048.8" y="274.6" width="19.2" height="5.5" rx="2.4" fill="#121a1c"/>
<rect x="1052.5" y="280.1" width="12.5" height="10.9" fill="none" stroke="#121a1c" stroke-width="1.2"/>
<polygon points="413.8,211.9 424.3,210.55 424.3,213.25" fill="#121a1c"/>
<polygon points="453.8,211.9 464.3,210.55 464.3,213.25" fill="#121a1c"/>
<polygon points="453.8,211.9 443.3,213.25 443.3,210.55" fill="#121a1c"/>
<polygon points="507.6,211.9 518.1,210.55 518.1,213.25" fill="#121a1c"/>
<polygon points="507.6,211.9 497.1,213.25 497.1,210.55" fill="#121a1c"/>
<polygon points="582.5,211.9 593,210.55 593,213.25" fill="#121a1c"/>
<polygon points="582.5,211.9 572,213.25 572,210.55" fill="#121a1c"/>
<polygon points="644.2,211.9 633.7,213.25 633.7,210.55" fill="#121a1c"/>
<polygon points="940.6,211.9 951.1,210.55 951.1,213.25" fill="#121a1c"/>
<polygon points="1058.2,211.9 1047.7,213.25 1047.7,210.55" fill="#121a1c"/>
<polygon points="1080.6,211.9 1091.1,210.55 1091.1,213.25" fill="#121a1c"/>
<polygon points="730.2,289.9 728.85,279.9 731.55,279.9" fill="#121a1c"/>
<polygon points="730.2,292.3 731.55,302.3 728.85,302.3" fill="#121a1c"/>
<polygon points="730.2,457.2 728.85,446.7 731.55,446.7" fill="#121a1c"/>
<circle cx="716.2" cy="257.6" r="1.2" fill="#121a1c"/>
<polygon points="1141.2,277.5 1139.85,268.5 1142.55,268.5" fill="#121a1c"/>
<polygon points="1141.2,291.3 1142.55,300.3 1139.85,300.3" fill="#121a1c"/>
<rect x="359.7" y="325.4" width="4.1" height="10" rx="1.5" fill="#121a1c"/>
<line x1="363.8" y1="328" x2="374" y2="328" stroke="#121a1c" stroke-width="1.2"/>
<line x1="363.8" y1="332.4" x2="374.1" y2="332.4" stroke="#121a1c" stroke-width="1.4"/>
<polygon points="369.5,327.8 363.5,328.8 363.5,326.8" fill="#121a1c"/>
<rect x="354.9" y="347.3" width="4.4" height="10" rx="1.5" fill="#121a1c"/>
<line x1="359.3" y1="350.6" x2="370.2" y2="350.6" stroke="#121a1c" stroke-width="1.2"/>
<line x1="359.3" y1="354.3" x2="370.2" y2="354.3" stroke="#121a1c" stroke-width="1.2"/>
<polygon points="288.8,330.6 290.15,341.1 287.45,341.1" fill="#121a1c"/>
<polygon points="288.8,374.1 287.45,363.6 290.15,363.6" fill="#121a1c"/>
<polygon points="312.4,352.4 311.05,341.9 313.75,341.9" fill="#121a1c"/>
<polygon points="312.4,374.6 313.75,385.1 311.05,385.1" fill="#121a1c"/>
<polygon points="354.3,457.3 352.95,446.8 355.65,446.8" fill="#121a1c"/>
<polygon points="354.3,471.6 355.65,482.1 352.95,482.1" fill="#121a1c"/>
<circle cx="513.3" cy="374.4" r="7.95" fill="none" stroke="#121a1c" stroke-width="2.9"/>
<circle cx="513.3" cy="374.4" r="1.4" fill="#121a1c"/>
<circle cx="975.8" cy="374.3" r="7.95" fill="none" stroke="#121a1c" stroke-width="2.9"/>
<circle cx="975.8" cy="374.3" r="1.4" fill="#121a1c"/>
<polygon points="519.8,379.7 527.98,383.7 526.44,385.92" fill="#121a1c"/>
<polygon points="414.3,393.3 424.8,391.95 424.8,394.65" fill="#121a1c"/>
<polygon points="513,393.3 502.5,394.65 502.5,391.95" fill="#121a1c"/>
<polygon points="976.3,395.8 986.8,394.45 986.8,397.15" fill="#121a1c"/>
<polygon points="1080.4,395.8 1069.9,397.15 1069.9,394.45" fill="#121a1c"/>
<polyline points="514.2,457.7 514.2,403 539.2,403 539.2,457.7" fill="none" stroke="#121a1c" stroke-width="1.6"/>
<rect x="518.8" y="420" width="16.7" height="48.8" fill="none" stroke="#121a1c" stroke-width="1.6"/>
<polyline points="955.5,457.7 955.5,402.5 980.5,402.5 980.5,457.7" fill="none" stroke="#121a1c" stroke-width="1.6"/>
<rect x="959.5" y="420" width="16.7" height="49.5" fill="none" stroke="#121a1c" stroke-width="1.6"/>
<line x1="954.8" y1="469.5" x2="981" y2="469.5" stroke="#121a1c" stroke-width="2.4"/>
<circle cx="526.8" cy="448" r="1.2" fill="#121a1c"/>
<circle cx="526.8" cy="464.2" r="1.2" fill="#121a1c"/>
<circle cx="967.5" cy="454" r="1.2" fill="#121a1c"/>
<rect x="423.8" y="457.6" width="8.7" height="11.4" fill="none" stroke="#121a1c" stroke-width="1.2"/>
<circle cx="427.8" cy="464" r="1.1" fill="#121a1c"/>
<rect x="419.5" y="468.8" width="16.8" height="6.7" rx="2.5" fill="#121a1c"/>
<rect x="457.5" y="457.6" width="12.5" height="11.4" fill="none" stroke="#121a1c" stroke-width="1.2"/>
<circle cx="463.3" cy="461.2" r="1.1" fill="#121a1c"/>
<rect x="453.8" y="468.8" width="20" height="6.7" rx="2.5" fill="#121a1c"/>
<rect x="1023.3" y="457.6" width="3.5" height="10.4" fill="none" stroke="#121a1c" stroke-width="1.0"/>
<ellipse cx="1025" cy="471" rx="4.3" ry="2.6" fill="#121a1c"/>
<circle cx="681.2" cy="444.5" r="1.2" fill="#121a1c"/>
<line x1="1122.3" y1="410" x2="1131" y2="410" stroke="#121a1c" stroke-width="1.4"/>
<line x1="1110.5" y1="439.3" x2="1131" y2="439.3" stroke="#121a1c" stroke-width="1.4"/>
<line x1="1128.8" y1="410" x2="1128.8" y2="439.3" stroke="#121a1c" stroke-width="1.8"/>
<rect x="1131" y="404.8" width="6" height="39.7" rx="1" fill="#121a1c"/>
<rect class="o" x="1132.4" y="406.5" width="2.4" height="36.3" fill="#7d9092"/>
<polygon points="1109.8,461.2 1120.3,459.85 1120.3,462.55" fill="#121a1c"/>
<polygon points="1133.6,461.2 1123.1,462.55 1123.1,459.85" fill="#121a1c"/>
<polygon points="1123.4,349.2 1113.06,351.49 1112.82,348.8" fill="#121a1c"/>
<polygon points="1124.6,349.1 1134.94,346.81 1135.18,349.5" fill="#121a1c"/>
<circle cx="1156.2" cy="332.2" r="1.1" fill="#121a1c"/>
<polygon points="1141.2,291.5 1142.55,300.5 1139.85,300.5" fill="#121a1c"/>
<polygon points="413.6,536.4 403.1,537.75 403.1,535.05" fill="#121a1c"/>
<polygon points="427.7,536.4 438.2,535.05 438.2,537.75" fill="#121a1c"/>
<polygon points="463.6,536.4 453.1,537.75 453.1,535.05" fill="#121a1c"/>
<polygon points="1025.8,536.8 1036.3,535.45 1036.3,538.15" fill="#121a1c"/>
<polygon points="1080.3,536.8 1069.8,538.15 1069.8,535.45" fill="#121a1c"/>
<polygon points="414.1,561.8 424.6,560.45 424.6,563.15" fill="#121a1c"/>
<polygon points="527,561.8 516.5,563.15 516.5,560.45" fill="#121a1c"/>
<polygon points="527,561.8 537.5,560.45 537.5,563.15" fill="#121a1c"/>
<polygon points="967.2,561.8 956.7,563.15 956.7,560.45" fill="#121a1c"/>
<polygon points="414.1,586.4 424.6,585.05 424.6,587.75" fill="#121a1c"/>
<polygon points="1080.3,586.4 1069.8,587.75 1069.8,585.05" fill="#121a1c"/>
<polygon points="354.6,612.5 365.1,611.15 365.1,613.85" fill="#121a1c"/>
<polygon points="1136,612.5 1125.5,613.85 1125.5,611.15" fill="#121a1c"/>
<text transform="translate(9.2,219) skewX(-6)" font-size="20.86" font-style="italic" fill="#081011" textLength="14.08" lengthAdjust="spacingAndGlyphs" stroke="#cfedf0" stroke-width="0.38">А1</text>
<text transform="translate(36.2,219) skewX(-6)" font-size="20.86" font-style="italic" fill="#081011" textLength="14.08" lengthAdjust="spacingAndGlyphs" stroke="#cfedf0" stroke-width="0.38">А2</text>
<text transform="translate(64.5,219) skewX(-6)" font-size="20.86" font-style="italic" fill="#081011" textLength="10.08" lengthAdjust="spacingAndGlyphs" stroke="#cfedf0" stroke-width="0.38">Е</text>
<text transform="translate(90.8,219) skewX(-6)" font-size="20.86" font-style="italic" fill="#081011" textLength="10.08" lengthAdjust="spacingAndGlyphs" stroke="#cfedf0" stroke-width="0.38">М</text>
<text transform="translate(117.3,219) skewX(-6)" font-size="20.86" font-style="italic" fill="#081011" textLength="10.08" lengthAdjust="spacingAndGlyphs" stroke="#cfedf0" stroke-width="0.38">В</text>
<text transform="translate(142,219) skewX(-6)" font-size="20.86" font-style="italic" fill="#081011" textLength="14.08" lengthAdjust="spacingAndGlyphs" stroke="#cfedf0" stroke-width="0.38">П1</text>
<text transform="translate(261.2,390) rotate(-90) skewX(-6)" x="0" y="0" font-size="17.71" font-style="italic" fill="#081011" textLength="45.42" lengthAdjust="spacingAndGlyphs" stroke="#cfedf0" stroke-width="0.32">3943±3,3</text>
<text transform="translate(119,249.7) skewX(-6)" font-size="16.71" font-style="italic" fill="#081011" textLength="18.26" lengthAdjust="spacingAndGlyphs" stroke="#cfedf0" stroke-width="0.3">485</text>
<text transform="translate(160,249.7) skewX(-6)" font-size="16.71" font-style="italic" fill="#081011" textLength="20.26" lengthAdjust="spacingAndGlyphs" stroke="#cfedf0" stroke-width="0.3">485</text>
<text transform="translate(196.5,282) rotate(27) skewX(-6)" x="0" y="0" font-size="14" font-style="italic" fill="#081011" textLength="19" lengthAdjust="spacingAndGlyphs" text-anchor="middle" stroke="#cfedf0" stroke-width="0.25">500</text>
<text transform="translate(233,315) skewX(-6)" font-size="14.29" font-style="italic" fill="#081011" textLength="16.37" lengthAdjust="spacingAndGlyphs" stroke="#cfedf0" stroke-width="0.26">№1</text>
<text transform="translate(20,271) skewX(-6)" font-size="21.43" font-style="italic" fill="#081011" textLength="17.05" lengthAdjust="spacingAndGlyphs" stroke="#cfedf0" stroke-width="0.39">21</text>
<text transform="translate(22.5,305) skewX(-6)" font-size="21.43" font-style="italic" fill="#081011" textLength="14.55" lengthAdjust="spacingAndGlyphs" stroke="#cfedf0" stroke-width="0.39">17</text>
<text transform="translate(40.2,344) rotate(-90) skewX(-6)" x="0" y="0" font-size="16.71" font-style="italic" fill="#081011" textLength="20.46" lengthAdjust="spacingAndGlyphs" stroke="#cfedf0" stroke-width="0.3">250</text>
<text transform="translate(41,402.5) rotate(-90) skewX(-6)" x="0" y="0" font-size="17.14" font-style="italic" fill="#081011" textLength="20.74" lengthAdjust="spacingAndGlyphs" stroke="#cfedf0" stroke-width="0.31">650</text>
<text transform="translate(49.8,446) rotate(-90) skewX(-6)" x="0" y="0" font-size="13.71" font-style="italic" fill="#081011" textLength="17.39" lengthAdjust="spacingAndGlyphs" stroke="#cfedf0" stroke-width="0.25">100</text>
<text transform="translate(33.6,509) skewX(-6)" font-size="20" font-style="italic" fill="#081011" textLength="12.12" lengthAdjust="spacingAndGlyphs" stroke="#cfedf0" stroke-width="0.36">16</text>
<text transform="translate(90.5,519.5) skewX(-6)" font-size="20.86" font-style="italic" fill="#081011" textLength="10.08" lengthAdjust="spacingAndGlyphs" stroke="#cfedf0" stroke-width="0.38">Р</text>
<text transform="translate(116.9,519.5) skewX(-6)" font-size="20.86" font-style="italic" fill="#081011" textLength="10.08" lengthAdjust="spacingAndGlyphs" stroke="#cfedf0" stroke-width="0.38">Б</text>
<text transform="translate(143.4,519.5) skewX(-6)" font-size="20.86" font-style="italic" fill="#081011" textLength="10.08" lengthAdjust="spacingAndGlyphs" stroke="#cfedf0" stroke-width="0.38">Г</text>
<text transform="translate(135.4,557) skewX(-6)" font-size="15.71" font-style="italic" fill="#081011" textLength="26.41" lengthAdjust="spacingAndGlyphs" stroke="#cfedf0" stroke-width="0.28">2660</text>
<text transform="translate(135.4,582) skewX(-6)" font-size="17.14" font-style="italic" fill="#081011" textLength="25.24" lengthAdjust="spacingAndGlyphs" stroke="#cfedf0" stroke-width="0.31">3224</text>
<text transform="translate(376.3,330.2) skewX(-6)" font-size="16.29" font-style="italic" fill="#081011" textLength="20.78" lengthAdjust="spacingAndGlyphs" stroke="#cfedf0" stroke-width="0.29">240</text>
<text transform="translate(503.8,330.5) skewX(-6)" font-size="15.71" font-style="italic" fill="#081011" textLength="25.41" lengthAdjust="spacingAndGlyphs" stroke="#cfedf0" stroke-width="0.28">3250</text>
<text transform="translate(625.3,330.3) skewX(-6)" font-size="15.14" font-style="italic" fill="#081011" textLength="27.33" lengthAdjust="spacingAndGlyphs" stroke="#cfedf0" stroke-width="0.27">2560</text>
<text transform="translate(804,330.3) skewX(-6)" font-size="15.14" font-style="italic" fill="#081011" textLength="27.33" lengthAdjust="spacingAndGlyphs" stroke="#cfedf0" stroke-width="0.27">2560</text>
<text transform="translate(965,330) skewX(-6)" font-size="15.71" font-style="italic" fill="#081011" textLength="25.51" lengthAdjust="spacingAndGlyphs" stroke="#cfedf0" stroke-width="0.28">3250</text>
<text transform="translate(425,206.8) skewX(-6)" font-size="16" font-style="italic" fill="#081011" textLength="19.29" lengthAdjust="spacingAndGlyphs" stroke="#cfedf0" stroke-width="0.29">725</text>
<text transform="translate(471,206.8) skewX(-6)" font-size="16" font-style="italic" fill="#081011" textLength="18.29" lengthAdjust="spacingAndGlyphs" stroke="#cfedf0" stroke-width="0.29">975</text>
<text transform="translate(534,206.8) skewX(-6)" font-size="16" font-style="italic" fill="#081011" textLength="21.29" lengthAdjust="spacingAndGlyphs" stroke="#cfedf0" stroke-width="0.29">1350</text>
<text transform="translate(602.5,206.8) skewX(-6)" font-size="16" font-style="italic" fill="#081011" textLength="20.79" lengthAdjust="spacingAndGlyphs" stroke="#cfedf0" stroke-width="0.29">1130</text>
<text transform="translate(986.2,206.8) skewX(-6)" font-size="16" font-style="italic" fill="#081011" textLength="24.29" lengthAdjust="spacingAndGlyphs" stroke="#cfedf0" stroke-width="0.29">2150</text>
<text transform="translate(1093.8,206.8) skewX(-6)" font-size="16" font-style="italic" fill="#081011" textLength="20.49" lengthAdjust="spacingAndGlyphs" stroke="#cfedf0" stroke-width="0.29">400</text>
<text transform="translate(446.3,243.9) skewX(-6)" font-size="20.86" font-style="italic" fill="#081011" textLength="14.08" lengthAdjust="spacingAndGlyphs" stroke="#cfedf0" stroke-width="0.38">П1</text>
<text transform="translate(502.1,243.9) skewX(-6)" font-size="20.86" font-style="italic" fill="#081011" textLength="10.08" lengthAdjust="spacingAndGlyphs" stroke="#cfedf0" stroke-width="0.38">В</text>
<text transform="translate(577,243.9) skewX(-6)" font-size="20.86" font-style="italic" fill="#081011" textLength="10.08" lengthAdjust="spacingAndGlyphs" stroke="#cfedf0" stroke-width="0.38">М</text>
<text transform="translate(638.7,243.9) skewX(-6)" font-size="20.86" font-style="italic" fill="#081011" textLength="10.08" lengthAdjust="spacingAndGlyphs" stroke="#cfedf0" stroke-width="0.38">Е</text>
<text transform="translate(932.9,243.9) skewX(-6)" font-size="20.86" font-style="italic" fill="#081011" textLength="14.08" lengthAdjust="spacingAndGlyphs" stroke="#cfedf0" stroke-width="0.38">А2</text>
<text transform="translate(1050.7,243.9) skewX(-6)" font-size="20.86" font-style="italic" fill="#081011" textLength="14.08" lengthAdjust="spacingAndGlyphs" stroke="#cfedf0" stroke-width="0.38">А1</text>
<text transform="translate(383.3,258.3) skewX(-6)" font-size="19" font-style="italic" fill="#081011" textLength="11.66" lengthAdjust="spacingAndGlyphs" stroke="#cfedf0" stroke-width="0.34">11</text>
<text transform="translate(380,280.8) skewX(-6)" font-size="20.14" font-style="italic" fill="#081011" textLength="17.41" lengthAdjust="spacingAndGlyphs" stroke="#cfedf0" stroke-width="0.36">31</text>
<text transform="translate(478.8,258.8) skewX(-6)" font-size="19.71" font-style="italic" fill="#081011" textLength="7.83" lengthAdjust="spacingAndGlyphs" stroke="#cfedf0" stroke-width="0.35">7</text>
<text transform="translate(547.5,258.8) skewX(-6)" font-size="19.71" font-style="italic" fill="#081011" textLength="14.13" lengthAdjust="spacingAndGlyphs" stroke="#cfedf0" stroke-width="0.35">10</text>
<text transform="translate(662.5,258.8) skewX(-6)" font-size="19.71" font-style="italic" fill="#081011" textLength="9.13" lengthAdjust="spacingAndGlyphs" stroke="#cfedf0" stroke-width="0.35">9</text>
<text transform="translate(773.8,258.8) skewX(-6)" font-size="19.71" font-style="italic" fill="#081011" textLength="17.83" lengthAdjust="spacingAndGlyphs" stroke="#cfedf0" stroke-width="0.35">21</text>
<text transform="translate(902.5,258.8) skewX(-6)" font-size="19.71" font-style="italic" fill="#081011" textLength="10.43" lengthAdjust="spacingAndGlyphs" stroke="#cfedf0" stroke-width="0.35">5</text>
<text transform="translate(1028.8,258.8) skewX(-6)" font-size="19.71" font-style="italic" fill="#081011" textLength="6.53" lengthAdjust="spacingAndGlyphs" stroke="#cfedf0" stroke-width="0.35">4</text>
<text transform="translate(483.8,314.3) skewX(-6)" font-size="20.57" font-style="italic" fill="#081011" textLength="14.29" lengthAdjust="spacingAndGlyphs" stroke="#cfedf0" stroke-width="0.37">18</text>
<text transform="translate(725,272.2) rotate(-90) skewX(-6)" x="0" y="0" font-size="13.57" font-style="italic" fill="#081011" textLength="8" lengthAdjust="spacingAndGlyphs" stroke="#cfedf0" stroke-width="0.24">14</text>
<text transform="translate(726.7,391.7) rotate(-90) skewX(-6)" x="0" y="0" font-size="19.14" font-style="italic" fill="#081011" textLength="33.85" lengthAdjust="spacingAndGlyphs" stroke="#cfedf0" stroke-width="0.34">ø3000</text>
<text transform="translate(1136.2,260) rotate(-90) skewX(-6)" x="0" y="0" font-size="16" font-style="italic" fill="#081011" textLength="19.29" lengthAdjust="spacingAndGlyphs" stroke="#cfedf0" stroke-width="0.29">250</text>
<text transform="translate(325.7,332.3) skewX(-6)" font-size="20.86" font-style="italic" fill="#081011" textLength="14.08" lengthAdjust="spacingAndGlyphs" stroke="#cfedf0" stroke-width="0.38">Ц1</text>
<text transform="translate(325.7,359.9) skewX(-6)" font-size="20.86" font-style="italic" fill="#081011" textLength="14.08" lengthAdjust="spacingAndGlyphs" stroke="#cfedf0" stroke-width="0.38">Ц2</text>
<text transform="translate(322.5,295.8) skewX(-6)" font-size="20.14" font-style="italic" fill="#081011" textLength="11.61" lengthAdjust="spacingAndGlyphs" stroke="#cfedf0" stroke-width="0.36">14</text>
<text transform="translate(322.5,395) skewX(-6)" font-size="19.57" font-style="italic" fill="#081011" textLength="11.64" lengthAdjust="spacingAndGlyphs" stroke="#cfedf0" stroke-width="0.35">14</text>
<text transform="translate(285,362.5) rotate(-90) skewX(-6)" x="0" y="0" font-size="16" font-style="italic" fill="#081011" textLength="20.59" lengthAdjust="spacingAndGlyphs" stroke="#cfedf0" stroke-width="0.29">800</text>
<text transform="translate(307.5,412.5) rotate(-90) skewX(-6)" x="0" y="0" font-size="14.29" font-style="italic" fill="#081011" textLength="20.67" lengthAdjust="spacingAndGlyphs" stroke="#cfedf0" stroke-width="0.26">400</text>
<text transform="translate(350,510) rotate(-90) skewX(-6)" x="0" y="0" font-size="16" font-style="italic" fill="#081011" textLength="20.49" lengthAdjust="spacingAndGlyphs" stroke="#cfedf0" stroke-width="0.29">250</text>
<text transform="translate(561.2,352.5) skewX(-6)" font-size="21.43" font-style="italic" fill="#081011" textLength="12.85" lengthAdjust="spacingAndGlyphs" stroke="#cfedf0" stroke-width="0.39">15</text>
<text transform="translate(558.8,375) skewX(-6)" font-size="21.43" font-style="italic" fill="#081011" textLength="16.45" lengthAdjust="spacingAndGlyphs" stroke="#cfedf0" stroke-width="0.39">31</text>
<text transform="translate(935,357.5) skewX(-6)" font-size="21.43" font-style="italic" fill="#081011" textLength="12.85" lengthAdjust="spacingAndGlyphs" stroke="#cfedf0" stroke-width="0.39">15</text>
<text transform="translate(932.5,380) skewX(-6)" font-size="21.43" font-style="italic" fill="#081011" textLength="16.55" lengthAdjust="spacingAndGlyphs" stroke="#cfedf0" stroke-width="0.39">31</text>
<text transform="translate(541,386) rotate(38) skewX(-6)" x="0" y="0" font-size="11" font-style="italic" fill="#081011" textLength="16" lengthAdjust="spacingAndGlyphs" text-anchor="middle" stroke="#cfedf0" stroke-width="0.2">№1</text>
<text transform="translate(558.8,398.8) skewX(-6)" font-size="16.14" font-style="italic" fill="#081011" textLength="99.29" lengthAdjust="spacingAndGlyphs" stroke="#cfedf0" stroke-width="0.29">ГОСТ 14771-76-Н1-</text>
<text transform="translate(675,398.8) skewX(-6)" font-size="16.14" font-style="italic" fill="#081011" textLength="10.49" lengthAdjust="spacingAndGlyphs" stroke="#cfedf0" stroke-width="0.29">10</text>
<text transform="translate(558.8,420) skewX(-6)" font-size="16" font-style="italic" fill="#081011" textLength="15.49" lengthAdjust="spacingAndGlyphs" stroke="#cfedf0" stroke-width="0.29">Н1-</text>
<text transform="translate(592.5,420) skewX(-6)" font-size="16" font-style="italic" fill="#081011" textLength="7.99" lengthAdjust="spacingAndGlyphs" stroke="#cfedf0" stroke-width="0.29">14</text>
<text transform="translate(452.5,388.8) skewX(-6)" font-size="14.29" font-style="italic" fill="#081011" textLength="23.07" lengthAdjust="spacingAndGlyphs" stroke="#cfedf0" stroke-width="0.26">1800</text>
<text transform="translate(1017,391.2) skewX(-6)" font-size="16" font-style="italic" fill="#081011" textLength="23.49" lengthAdjust="spacingAndGlyphs" stroke="#cfedf0" stroke-width="0.29">1900</text>
<text transform="translate(555,485) skewX(-6)" font-size="21.43" font-style="italic" fill="#081011" textLength="9.05" lengthAdjust="spacingAndGlyphs" stroke="#cfedf0" stroke-width="0.39">3</text>
<text transform="translate(923.8,485) skewX(-6)" font-size="21.43" font-style="italic" fill="#081011" textLength="7.75" lengthAdjust="spacingAndGlyphs" stroke="#cfedf0" stroke-width="0.39">2</text>
<text transform="translate(388.8,491.2) skewX(-6)" font-size="21.43" font-style="italic" fill="#081011" textLength="10.25" lengthAdjust="spacingAndGlyphs" stroke="#cfedf0" stroke-width="0.39">8</text>
<text transform="translate(490,485) skewX(-6)" font-size="19.71" font-style="italic" fill="#081011" textLength="9.13" lengthAdjust="spacingAndGlyphs" stroke="#cfedf0" stroke-width="0.35">6</text>
<text transform="translate(1050,485) skewX(-6)" font-size="21.43" font-style="italic" fill="#081011" textLength="14.05" lengthAdjust="spacingAndGlyphs" stroke="#cfedf0" stroke-width="0.39">13</text>
<text transform="translate(700,485) skewX(-6)" font-size="21.43" font-style="italic" fill="#081011" textLength="7.85" lengthAdjust="spacingAndGlyphs" stroke="#cfedf0" stroke-width="0.39">1</text>
<text transform="translate(1151.2,455.8) skewX(-6)" font-size="15.14" font-style="italic" fill="#081011" textLength="20.43" lengthAdjust="spacingAndGlyphs" stroke="#cfedf0" stroke-width="0.27">400</text>
<text transform="translate(1161,371.7) skewX(-6)" font-size="20.29" font-style="italic" fill="#081011" textLength="14.1" lengthAdjust="spacingAndGlyphs" stroke="#cfedf0" stroke-width="0.37">12</text>
<text transform="translate(1158,394) skewX(-6)" font-size="21.14" font-style="italic" fill="#081011" textLength="16.57" lengthAdjust="spacingAndGlyphs" stroke="#cfedf0" stroke-width="0.38">31</text>
<text transform="translate(1152.7,431.6) skewX(-6)" font-size="20.86" font-style="italic" fill="#081011" textLength="14.08" lengthAdjust="spacingAndGlyphs" stroke="#cfedf0" stroke-width="0.38">П2</text>
<text transform="translate(1142,341.9) skewX(-6)" font-size="15.57" font-style="italic" fill="#081011" textLength="7.81" lengthAdjust="spacingAndGlyphs" stroke="#cfedf0" stroke-width="0.28">14</text>
<text transform="translate(422,519.8) skewX(-6)" font-size="20.86" font-style="italic" fill="#081011" textLength="10.08" lengthAdjust="spacingAndGlyphs" stroke="#cfedf0" stroke-width="0.38">Г</text>
<text transform="translate(458.3,519.8) skewX(-6)" font-size="20.86" font-style="italic" fill="#081011" textLength="10.08" lengthAdjust="spacingAndGlyphs" stroke="#cfedf0" stroke-width="0.38">Б</text>
<text transform="translate(1020,519.8) skewX(-6)" font-size="20.86" font-style="italic" fill="#081011" textLength="10.08" lengthAdjust="spacingAndGlyphs" stroke="#cfedf0" stroke-width="0.38">Р</text>
<text transform="translate(376.2,531.7) skewX(-6)" font-size="15.86" font-style="italic" fill="#081011" textLength="20.6" lengthAdjust="spacingAndGlyphs" stroke="#cfedf0" stroke-width="0.29">250</text>
<text transform="translate(436.2,531.7) skewX(-6)" font-size="15.86" font-style="italic" fill="#081011" textLength="19.3" lengthAdjust="spacingAndGlyphs" stroke="#cfedf0" stroke-width="0.29">650</text>
<text transform="translate(1041.2,531.7) skewX(-6)" font-size="15.86" font-style="italic" fill="#081011" textLength="24.3" lengthAdjust="spacingAndGlyphs" stroke="#cfedf0" stroke-width="0.29">1000</text>
<text transform="translate(457.5,556.6) skewX(-6)" font-size="15.71" font-style="italic" fill="#081011" textLength="25.61" lengthAdjust="spacingAndGlyphs" stroke="#cfedf0" stroke-width="0.28">2050</text>
<text transform="translate(733.5,556.5) skewX(-6)" font-size="15.71" font-style="italic" fill="#081011" textLength="27.31" lengthAdjust="spacingAndGlyphs" stroke="#cfedf0" stroke-width="0.28">8000</text>
<text transform="translate(700,581.5) skewX(-6)" font-size="15.71" font-style="italic" fill="#081011" textLength="28.31" lengthAdjust="spacingAndGlyphs" stroke="#cfedf0" stroke-width="0.28">12100</text>
<text transform="translate(685.5,607) skewX(-6)" font-size="15.71" font-style="italic" fill="#081011" textLength="37.81" lengthAdjust="spacingAndGlyphs" stroke="#cfedf0" stroke-width="0.28">14190±4</text>
</svg></body></html>
